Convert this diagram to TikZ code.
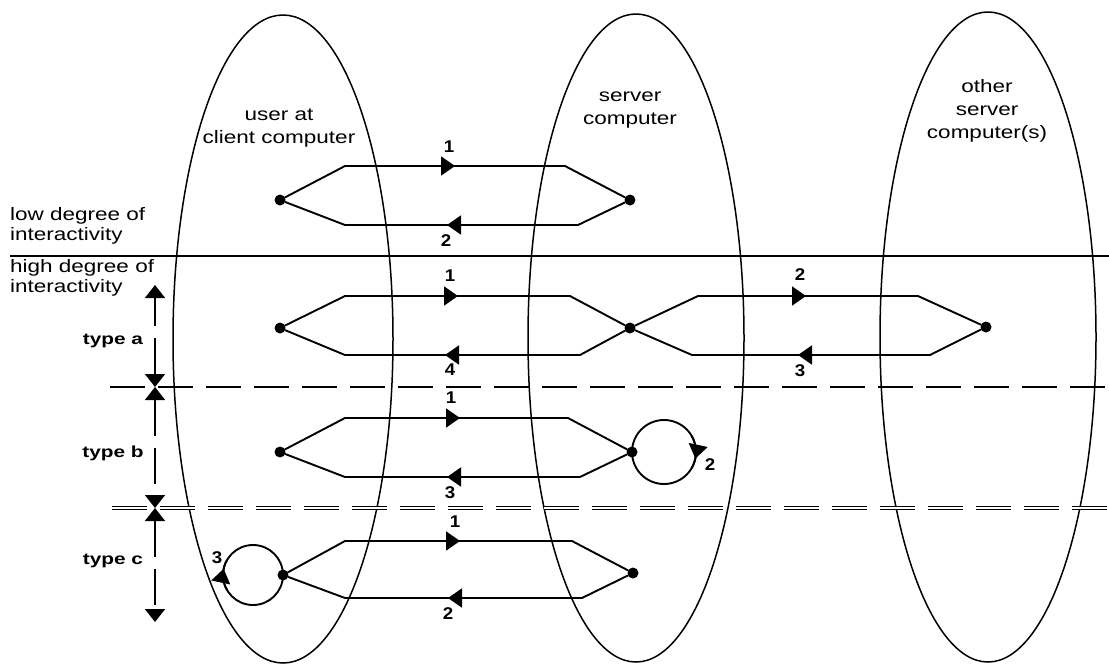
\documentclass[tikz,border=0pt]{standalone}
\usepackage{fontspec}
\newfontfamily\labfont[FakeStretch=1.25]{Liberation Sans}
\newfontfamily\typefont[FakeStretch=1.3]{Liberation Sans}
\newfontfamily\numfont[FakeStretch=1.1]{Liberation Sans}
\usetikzlibrary{arrows.meta,decorations.markings}
\begin{document}
\begin{tikzpicture}[x=1pt,y=-1pt,
  ell/.style={line width=1.5pt},
  flow/.style={line width=1.9pt, line cap=round, line join=round},
  dot/.style={circle, fill, inner sep=0pt, minimum size=11pt},
  rarr/.style={postaction={decorate}, decoration={markings, mark=at position #1 with {\arrow{Triangle[length=14pt,width=19pt]}}}},
  larr/.style={postaction={decorate}, decoration={markings, mark=at position #1 with {\arrowreversed{Triangle[length=14pt,width=19pt]}}}},
  lab/.style={font=\labfont\fontsize{18}{23}\selectfont, align=center, inner sep=0pt},
  side/.style={font=\labfont\fontsize{18}{20}\selectfont, align=left, inner sep=0pt, anchor=west},
  typ/.style={font=\typefont\bfseries\fontsize{16}{18}\selectfont, inner sep=0pt},
  num/.style={font=\numfont\bfseries\fontsize{17}{17}\selectfont, inner sep=0pt},
  dim/.style={line width=1.6pt, dash pattern=on 36pt off 12pt, {Triangle[length=13pt,width=20pt]}-{Triangle[length=13pt,width=20pt]}},
  sep/.style={line width=1.5pt, dash pattern=on 35pt off 13pt},
  sepb/.style={line width=1pt, double=white, double distance=1.8pt, dash pattern=on 35pt off 13pt}
]
\useasboundingbox (0,0) rectangle (1109,665);

% ellipses
\draw[ell] (283,339) ellipse [x radius=110pt, y radius=324pt];
\draw[ell] (636,338) ellipse [x radius=108pt, y radius=324pt];
\draw[ell] (988,337) ellipse [x radius=108pt, y radius=325pt];

% ellipse labels
\node[lab] (lclient) at (279,128) {user at\\client computer};
\node[lab] (lserver) at (630,110) {server\\computer};
\node[lab] (lother) at (987,111) {\fontsize{18}{21}\selectfont other\\server\\computer(s)};

% side labels
\node[side] (llow) at (10,226) {low degree of\\interactivity};
\node[side] (lhigh) at (10,278) {high degree of\\interactivity};

% separators
\coordinate (h1l) at (10,256); \coordinate (h1r) at (1109,256);
\draw[line width=1.5pt] (h1l) -- (h1r);
\coordinate (d1l) at (110,387); \coordinate (d1r) at (1109,387);
\draw[sep] (d1l) -- (d1r);
\coordinate (d2l) at (112,508); \coordinate (d2r) at (1109,508);
\draw[sepb] (d2l) -- (d2r);

% type extent arrows
\coordinate (ta1) at (155,285); \coordinate (ta2) at (155,387);
\coordinate (tb2) at (155,508); \coordinate (tc2) at (155,622);
\draw[dim] (ta2) -- (ta1);
\draw[dim] (ta2) -- (tb2);
\draw[dim] (tb2) -- (tc2);
\node[typ] (tya) at (113,341) {type a};
\node[typ] (tyb) at (113,453) {type b};
\node[typ] (tyc) at (113,561) {type c};

% ---- low degree row
\node[dot] (c0) at (280,200) {};
\node[dot] (s0) at (630,200) {};
\coordinate (u0a) at (345,166); \coordinate (u0b) at (565,166);
\coordinate (w0a) at (345,225); \coordinate (w0b) at (578,225);
\draw[flow] (c0) -- (u0a); \draw[flow,rarr=110pt] (u0a) -- (u0b); \draw[flow] (u0b) -- (s0);
\draw[flow] (c0) -- (w0a); \draw[flow,larr=102pt] (w0a) -- (w0b); \draw[flow] (w0b) -- (s0);
\node[num] (n01) at (449,147) {1};
\node[num] (n02) at (446,241) {2};

% ---- type a
\node[dot] (ca) at (280,328) {};
\node[dot] (sa) at (630,328) {};
\node[dot] (oa) at (986,327) {};
\coordinate (uaa) at (345,296); \coordinate (uab) at (570,296);
\coordinate (waa) at (345,355); \coordinate (wab) at (580,355);
\coordinate (uac) at (698,296); \coordinate (uad) at (918,296);
\coordinate (wac) at (692,355); \coordinate (wad) at (930,355);
\draw[flow] (ca) -- (uaa); \draw[flow,rarr=113pt] (uaa) -- (uab); \draw[flow] (uab) -- (sa);
\draw[flow] (ca) -- (waa); \draw[flow,larr=100pt] (waa) -- (wab); \draw[flow] (wab) -- (sa);
\draw[flow] (sa) -- (uac); \draw[flow,rarr=108pt] (uac) -- (uad); \draw[flow] (uad) -- (oa);
\draw[flow] (sa) -- (wac); \draw[flow,larr=106pt] (wac) -- (wad); \draw[flow] (wad) -- (oa);
\node[num] (na1) at (450,276) {1};
\node[num] (na4) at (450,370) {4};
\node[num] (na2) at (800,275) {2};
\node[num] (na3) at (800,371) {3};

% ---- type b
\node[dot] (cb) at (280,452) {};
\node[dot] (sb) at (632,452) {};
\coordinate (uba) at (345,418); \coordinate (ubb) at (568,418);
\coordinate (wba) at (345,477); \coordinate (wbb) at (580,477);
\draw[flow] (cb) -- (uba); \draw[flow,rarr=115pt] (uba) -- (ubb); \draw[flow] (ubb) -- (sb);
\draw[flow] (cb) -- (wba); \draw[flow,larr=102pt] (wba) -- (wbb); \draw[flow] (wbb) -- (sb);
\coordinate (lbc) at (664,452);
\draw[flow] (lbc) circle [radius=32pt];
\draw[flow, rarr=0.7] (lbc) ++(30:32pt) arc [start angle=30, end angle=-30, radius=32pt];
\node[num] (nb1) at (451,398) {1};
\node[num] (nb3) at (450,493) {3};
\node[num] (nb2) at (710,465) {2};

% ---- type c
\node[dot] (cc) at (283,575) {};
\node[dot] (sc) at (633,573) {};
\coordinate (uca) at (345,541); \coordinate (ucb) at (572,541);
\coordinate (wca) at (345,598); \coordinate (wcb) at (582,598);
\draw[flow] (cc) -- (uca); \draw[flow,rarr=115pt] (uca) -- (ucb); \draw[flow] (ucb) -- (sc);
\draw[flow] (cc) -- (wca); \draw[flow,larr=103pt] (wca) -- (wcb); \draw[flow] (wcb) -- (sc);
\coordinate (lcc) at (253,575);
\draw[flow] (lcc) circle [radius=30pt];
\draw[flow, rarr=0.7] (lcc) ++(210:30pt) arc [start angle=210, end angle=150, radius=30pt];
\node[num] (nc1) at (455,522) {1};
\node[num] (nc2) at (448,614) {2};
\node[num] (nc3) at (217,558) {3};
\end{tikzpicture}
\end{document}
